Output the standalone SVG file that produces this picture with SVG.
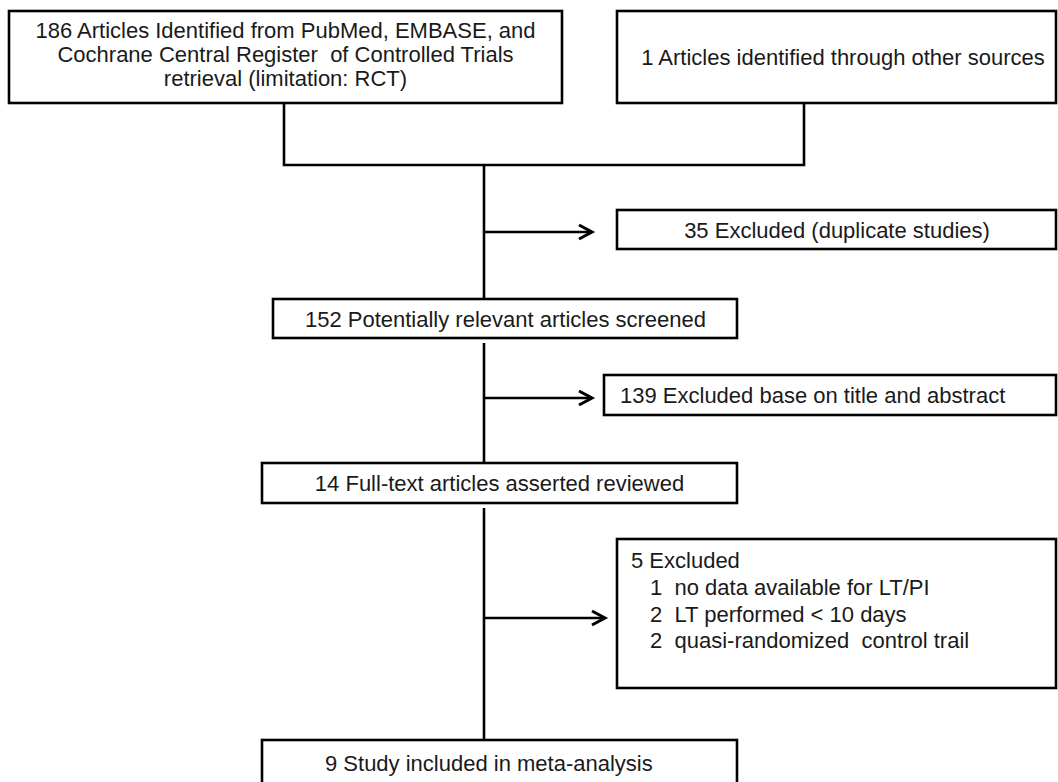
<svg xmlns="http://www.w3.org/2000/svg" width="1058" height="782" viewBox="0 0 1058 782">
<style>
.box{fill:#fff;stroke:#000;stroke-width:2.6}
.t{font-family:"Liberation Sans",Arial,sans-serif;font-size:22px;fill:#1a1a1a}
.c{text-anchor:middle}
.ln{fill:none;stroke:#000;stroke-width:2.6}
</style>
<defs>
<marker id="ah" markerUnits="userSpaceOnUse" markerWidth="24" markerHeight="24" viewBox="-18 -12 24 24" refX="0" refY="0" orient="auto">
<path d="M-13,-7 L0,0 L-13,7" fill="none" stroke="#000" stroke-width="3" stroke-linejoin="miter"/>
</marker>
</defs>
<rect width="1058" height="782" fill="#fff"/>
<g id="connectors">
<path class="ln" d="M284,103 V165 H804 V103"/>
<path class="ln" d="M484,165 V299"/>
<path class="ln" d="M484,232 H592" marker-end="url(#ah)"/>
<path class="ln" d="M484,343 V463"/>
<path class="ln" d="M484,398 H592" marker-end="url(#ah)"/>
<path class="ln" d="M484,508 V740"/>
<path class="ln" d="M484,618 H605" marker-end="url(#ah)"/>
</g>
<g id="n1">
<rect class="box" x="9" y="11" width="553" height="92"/>
<text class="t c" x="285.5" y="38">186 Articles Identified from PubMed, EMBASE, and</text>
<text class="t c" x="285.5" y="62" xml:space="preserve">Cochrane Central Register  of Controlled Trials</text>
<text class="t c" x="285.5" y="86">retrieval (limitation: RCT)</text>
</g>
<g id="n2">
<rect class="box" x="617" y="11" width="439" height="92"/>
<text class="t c" x="843" y="65">1 Articles identified through other sources</text>
</g>
<g id="n3">
<rect class="box" x="617" y="210" width="439" height="39"/>
<text class="t c" x="837" y="237.5">35 Excluded (duplicate studies)</text>
</g>
<g id="n4">
<rect class="box" x="273" y="299" width="464" height="39"/>
<text class="t c" x="505.5" y="326.5">152 Potentially relevant articles screened</text>
</g>
<g id="n5">
<rect class="box" x="604" y="375" width="452" height="40"/>
<text class="t" x="620" y="403">139 Excluded base on title and abstract</text>
</g>
<g id="n6">
<rect class="box" x="262" y="463" width="475" height="40"/>
<text class="t c" x="499.5" y="491">14 Full-text articles asserted reviewed</text>
</g>
<g id="n7">
<rect class="box" x="617" y="539" width="439" height="149"/>
<text class="t" x="631" y="568">5 Excluded</text>
<text class="t" x="650" y="595" xml:space="preserve">1  no data available for LT/PI</text>
<text class="t" x="650" y="622" xml:space="preserve">2  LT performed &lt; 10 days</text>
<text class="t" x="650" y="648" xml:space="preserve">2  quasi-randomized  control trail</text>
</g>
<g id="n8">
<rect class="box" x="262" y="740" width="475" height="60"/>
<text class="t" x="325" y="771">9 Study included in meta-analysis</text>
</g>
</svg>
